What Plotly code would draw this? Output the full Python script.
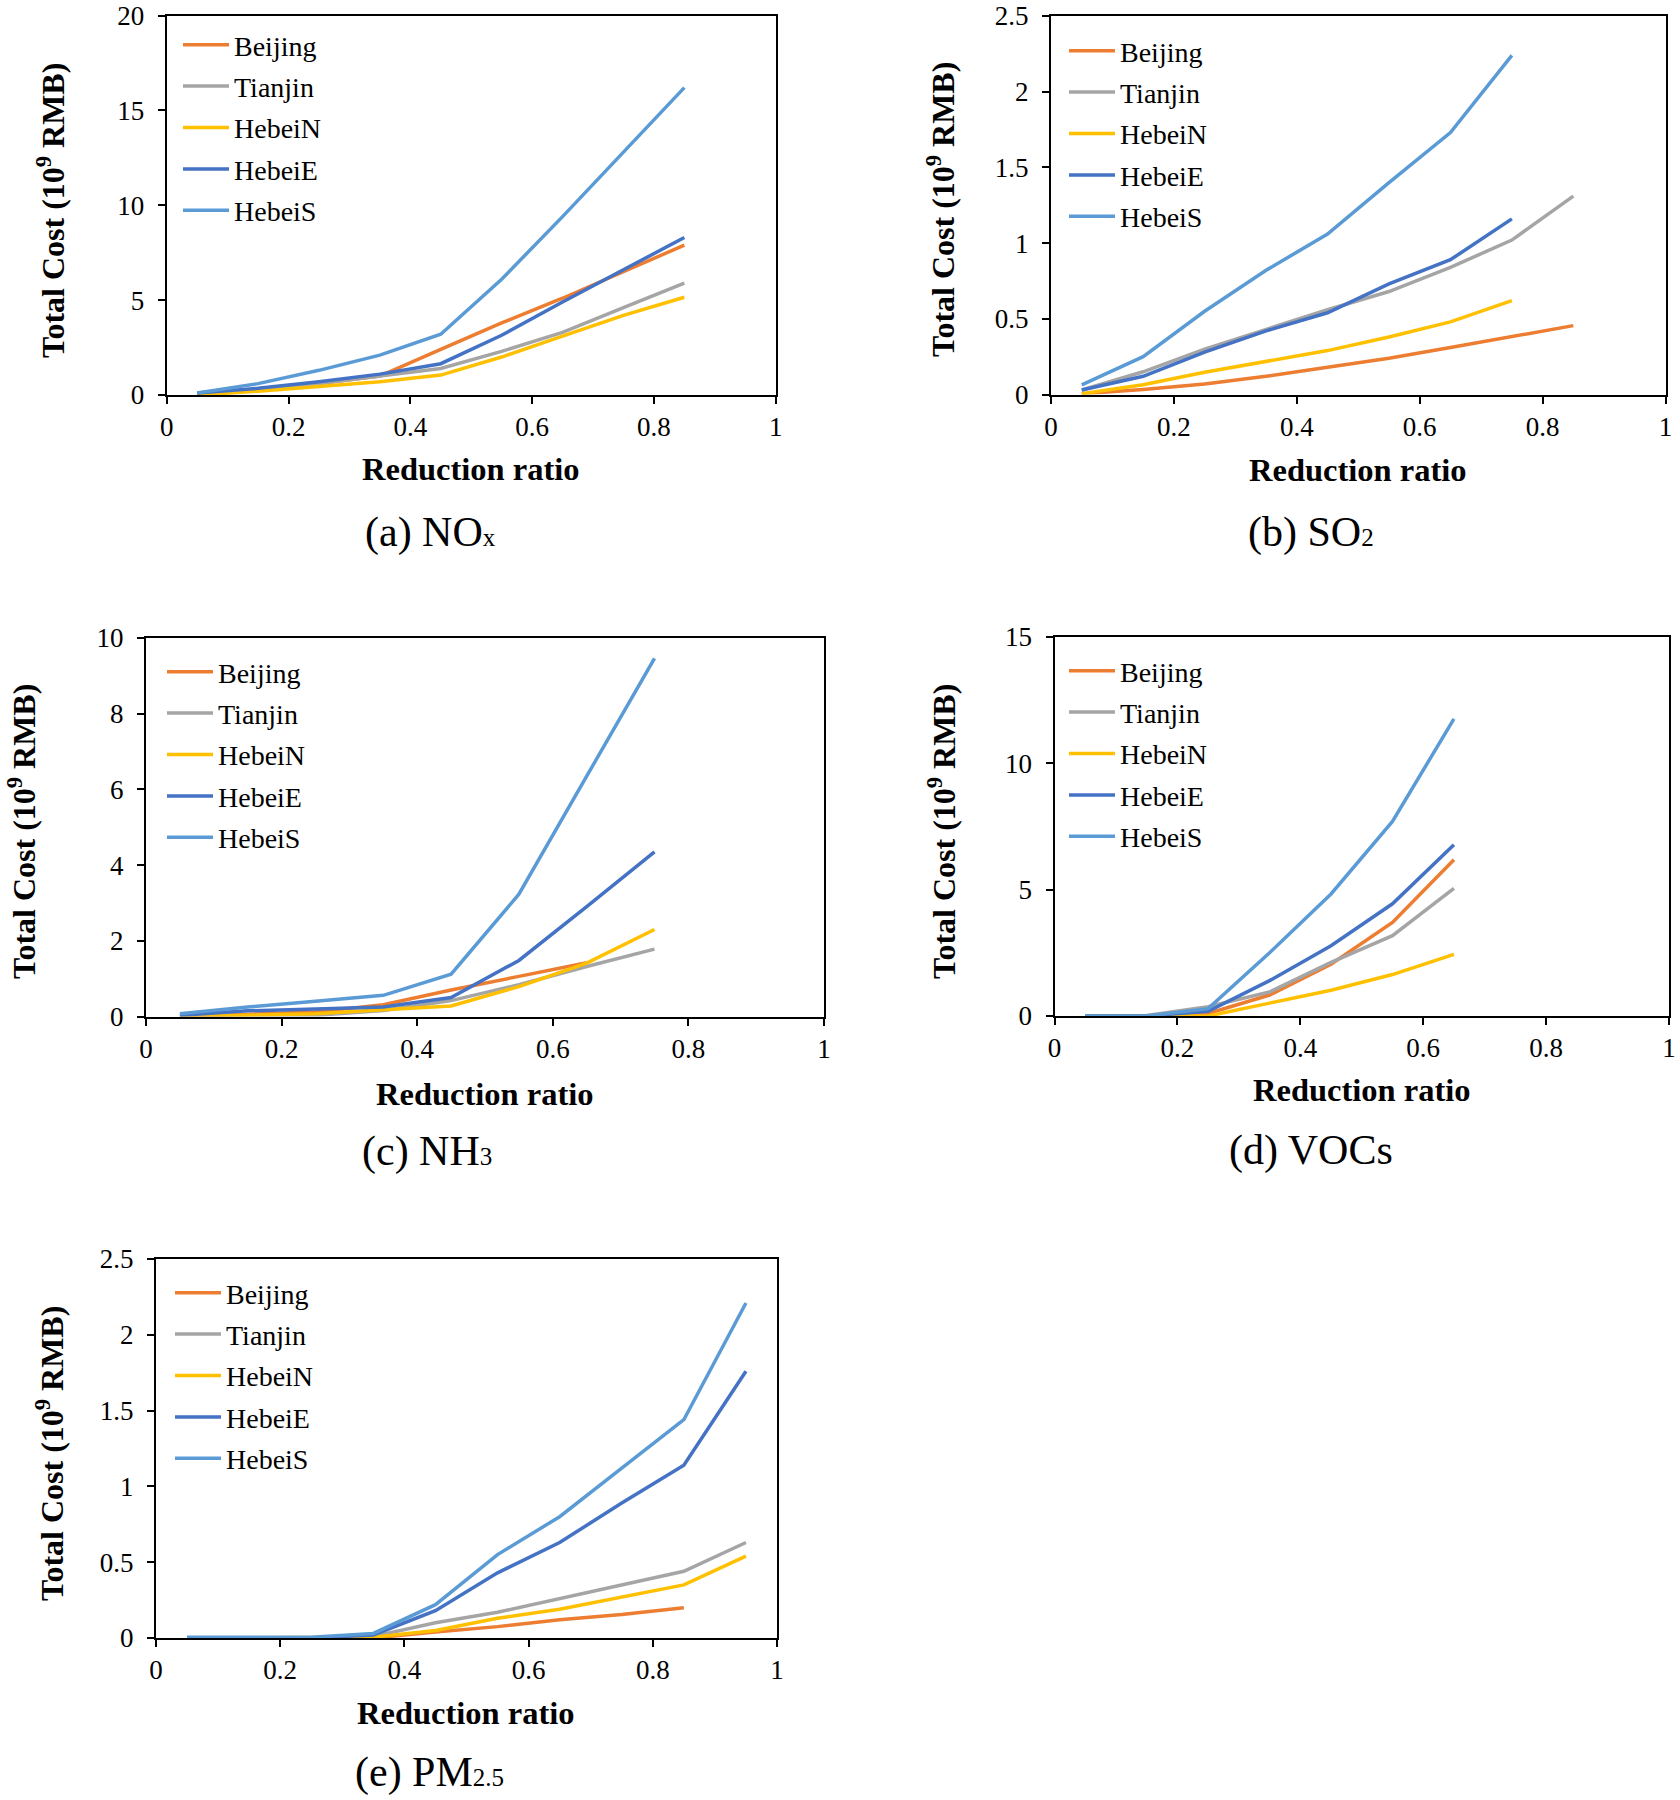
import plotly.graph_objects as go

W, H = 1680, 1800

# ---------------- data ----------------
series_names = ["Beijing", "Tianjin", "HebeiN", "HebeiE", "HebeiS"]
series_colors = ["#ED7D31", "#A5A5A5", "#FFC000", "#4472C4", "#5B9BD5"]

# (a) NOx
nox_x = [0.05, 0.15, 0.25, 0.35, 0.45, 0.55, 0.65, 0.75, 0.85]
nox_beijing = [0.05, 0.3, 0.6, 1.0, 2.4, 3.8, 5.1, 6.5, 7.9]
nox_tianjin = [0.05, 0.3, 0.6, 1.0, 1.4, 2.3, 3.3, 4.6, 5.9]
nox_hebein = [0.0, 0.2, 0.45, 0.7, 1.05, 2.0, 3.1, 4.2, 5.15]
nox_hebeie = [0.1, 0.35, 0.7, 1.1, 1.65, 3.15, 4.9, 6.6, 8.3]
nox_hebeis = [0.1, 0.6, 1.3, 2.1, 3.2, 6.1, 9.4, 12.8, 16.2]

# (b) SO2
so2_x_long = [0.05, 0.15, 0.25, 0.35, 0.45, 0.55, 0.65, 0.75, 0.85]
so2_x_short = [0.05, 0.15, 0.25, 0.35, 0.45, 0.55, 0.65, 0.75]
so2_beijing = [0.005, 0.033, 0.07, 0.12, 0.18, 0.24, 0.31, 0.38, 0.455]
so2_tianjin = [0.03, 0.15, 0.30, 0.43, 0.56, 0.68, 0.84, 1.02, 1.31]
so2_hebein = [0.005, 0.064, 0.147, 0.22, 0.29, 0.38, 0.48, 0.62]
so2_hebeie = [0.03, 0.12, 0.28, 0.42, 0.54, 0.73, 0.89, 1.16]
so2_hebeis = [0.064, 0.25, 0.55, 0.82, 1.06, 1.40, 1.73, 2.24]

# (c) NH3
nh3_x = [0.05, 0.15, 0.25, 0.35, 0.45, 0.55, 0.65, 0.75]
nh3_x_beijing = [0.05, 0.15, 0.25, 0.35, 0.45, 0.55, 0.65]
nh3_beijing = [0.0, 0.05, 0.12, 0.31, 0.70, 1.06, 1.42]
nh3_tianjin = [0.0, 0.0, 0.03, 0.16, 0.42, 0.84, 1.32, 1.78]
nh3_hebein = [0.0, 0.03, 0.07, 0.18, 0.28, 0.79, 1.41, 2.30]
nh3_hebeie = [0.03, 0.15, 0.20, 0.25, 0.50, 1.48, 2.9, 4.35]
nh3_hebeis = [0.07, 0.25, 0.40, 0.56, 1.12, 3.23, 6.35, 9.46]

# (d) VOCs
voc_x = [0.05, 0.15, 0.25, 0.35, 0.45, 0.55, 0.65]
voc_beijing = [0.0, 0.0, 0.1, 0.83, 2.05, 3.7, 6.18]
voc_tianjin = [0.0, 0.02, 0.37, 0.95, 2.12, 3.18, 5.05]
voc_hebein = [0.0, 0.0, 0.0, 0.51, 1.02, 1.64, 2.44]
voc_hebeie = [0.0, 0.0, 0.19, 1.4, 2.78, 4.44, 6.78]
voc_hebeis = [0.0, 0.0, 0.29, 2.5, 4.83, 7.7, 11.76]

# (e) PM2.5
pm_x = [0.05, 0.15, 0.25, 0.35, 0.45, 0.55, 0.65, 0.75, 0.85, 0.95]
pm_x_beijing = [0.05, 0.15, 0.25, 0.35, 0.45, 0.55, 0.65, 0.75, 0.85]
pm_beijing = [0.0, 0.0, 0.0, 0.0, 0.04, 0.075, 0.12, 0.155, 0.2]
pm_tianjin = [0.0, 0.0, 0.0, 0.01, 0.10, 0.17, 0.26, 0.35, 0.44, 0.63]
pm_hebein = [0.0, 0.0, 0.0, 0.005, 0.05, 0.13, 0.19, 0.27, 0.35, 0.54]
pm_hebeie = [0.0, 0.0, 0.0, 0.02, 0.18, 0.43, 0.63, 0.89, 1.14, 1.76]
pm_hebeis = [0.005, 0.005, 0.005, 0.03, 0.22, 0.55, 0.80, 1.12, 1.44, 2.21]

x_tick_vals = [0, 0.2, 0.4, 0.6, 0.8, 1]
x_tick_text = ["0", "0.2", "0.4", "0.6", "0.8", "1"]
captions = [
    "(a) NO<span style='font-size:25px'>x</span>",
    "(b) SO<span style='font-size:25px'>2</span>",
    "(c) NH<span style='font-size:25px'>3</span>",
    "(d) VOCs",
    "(e) PM<span style='font-size:25px'>2.5</span>",
]

panels = [
    dict(xs=[nox_x] * 5, ys=[nox_beijing, nox_tianjin, nox_hebein, nox_hebeie, nox_hebeis],
         yrange=[0, 20], dtick=5),
    dict(xs=[so2_x_long, so2_x_long, so2_x_short, so2_x_short, so2_x_short],
         ys=[so2_beijing, so2_tianjin, so2_hebein, so2_hebeie, so2_hebeis],
         yrange=[0, 2.5], dtick=0.5),
    dict(xs=[nh3_x_beijing, nh3_x, nh3_x, nh3_x, nh3_x],
         ys=[nh3_beijing, nh3_tianjin, nh3_hebein, nh3_hebeie, nh3_hebeis],
         yrange=[0, 10], dtick=2),
    dict(xs=[voc_x] * 5, ys=[voc_beijing, voc_tianjin, voc_hebein, voc_hebeie, voc_hebeis],
         yrange=[0, 15], dtick=5),
    dict(xs=[pm_x_beijing, pm_x, pm_x, pm_x, pm_x],
         ys=[pm_beijing, pm_tianjin, pm_hebein, pm_hebeie, pm_hebeis],
         yrange=[0, 2.5], dtick=0.5),
]

# ---------------- layout geometry (pixels) ----------------
# plot boxes: left, right, top, bottom
boxes = [
    (166.7, 775.7, 15.5, 395),
    (1051, 1665.5, 16, 394.5),
    (146, 824, 638, 1016.5),
    (1054.5, 1669, 637, 1016),
    (156, 777, 1259, 1638),
]
legend_pos = [(178, 20), (1064, 26), (162, 647), (1064, 646), (170, 1268)]
ytitle_pos = [(51, 211), (941, 210), (22, 832), (942, 832), (50, 1454)]
xtitle_pos = [(471, 469), (1358, 470), (485, 1094), (1362, 1090), (466, 1713)]
caption_pos = [(431, 532), (1311, 532), (427, 1151), (1311, 1150), (430, 1772)]

FONT = "Liberation Serif"

def px(x):
    return x / W

def py(y):
    return 1 - y / H

fig = go.Figure()
layout = dict(
    template="none",
    width=W, height=H, autosize=False,
    margin=dict(l=0, r=0, t=0, b=0, pad=0, autoexpand=False),
    paper_bgcolor="white", plot_bgcolor="white",
    font=dict(family=FONT, color="black"),
    annotations=[],
)

for i, p in enumerate(panels):
    k = "" if i == 0 else str(i + 1)
    lg = "legend" + k
    for j in range(5):
        fig.add_trace(go.Scatter(
            x=p["xs"][j], y=p["ys"][j], mode="lines",
            name=series_names[j],
            line=dict(color=series_colors[j], width=3.5),
            xaxis="x" + k, yaxis="y" + k,
            legend=lg, legendgroup=f"p{i}-{j}",
            cliponaxis=False,
        ))
    l, r, t, b = boxes[i]
    axis_common = dict(
        showline=True, mirror=True, linecolor="black", linewidth=2,
        ticks="outside", ticklen=7, tickwidth=2, tickcolor="black",
        showgrid=False, zeroline=False, automargin=False,
        tickfont=dict(family=FONT, size=27, color="black"),
        layer="below traces",
    )
    layout["xaxis" + k] = dict(
        domain=[px(l), px(r)], anchor="y" + k, range=[0, 1],
        tickvals=x_tick_vals, ticktext=x_tick_text, **axis_common)
    layout["yaxis" + k] = dict(
        domain=[py(b), py(t)], anchor="x" + k, range=p["yrange"],
        dtick=p["dtick"], tick0=0, ticklabelstandoff=8, **axis_common)
    lx, ly = legend_pos[i]
    layout[lg] = dict(
        x=px(lx), y=py(ly), xanchor="left", yanchor="top",
        bgcolor="rgba(0,0,0,0)", borderwidth=0,
        font=dict(family=FONT, size=28, color="black"),
        tracegroupgap=2, itemwidth=46,
    )
    yx, yy = ytitle_pos[i]
    layout["annotations"].append(dict(
        text="<b>Total Cost (10<sup>9</sup> RMB)</b>", textangle=-90,
        x=px(yx), y=py(yy), xref="paper", yref="paper",
        xanchor="center", yanchor="middle", showarrow=False,
        font=dict(family=FONT, size=32, color="black")))
    xx, xy = xtitle_pos[i]
    layout["annotations"].append(dict(
        text="<b>Reduction ratio</b>",
        x=px(xx), y=py(xy), xref="paper", yref="paper",
        xanchor="center", yanchor="middle", showarrow=False,
        font=dict(family=FONT, size=32.5, color="black")))
    cx, cy = caption_pos[i]
    layout["annotations"].append(dict(
        text=captions[i],
        x=px(cx), y=py(cy), xref="paper", yref="paper",
        xanchor="center", yanchor="middle", showarrow=False,
        font=dict(family=FONT, size=42, color="black")))

fig.update_layout(**layout)
fig.write_html(
    "out.html",
    config={"displayModeBar": False},
    post_script="document.body.style.margin='0';document.body.style.overflow='hidden';",
)
